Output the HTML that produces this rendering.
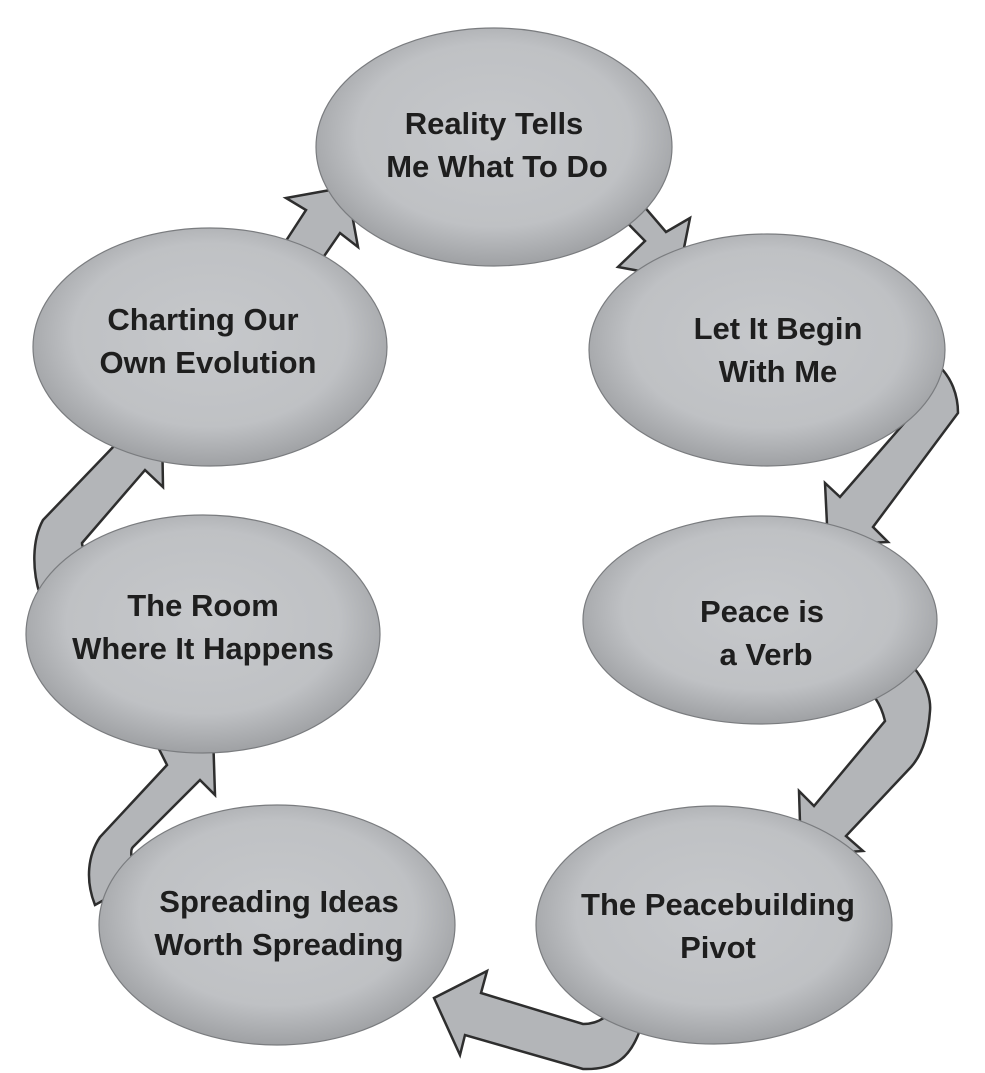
<!DOCTYPE html>
<html><head><meta charset="utf-8"><style>
html,body{margin:0;padding:0;background:#fff;}
svg{display:block;}
text{font-family:"Liberation Sans",Arial,sans-serif;font-weight:bold;font-size:31px;fill:#1e1e1e;text-anchor:middle;}
</style></head><body>
<svg width="985" height="1073" viewBox="0 0 985 1073" xmlns="http://www.w3.org/2000/svg">
<defs>
<radialGradient id="g" cx="50%" cy="45%" r="55%">
<stop offset="0" stop-color="#c6c8cb"/>
<stop offset="0.7" stop-color="#bfc1c4"/>
<stop offset="1" stop-color="#9fa1a4"/>
</radialGradient>
</defs>
<g fill="#b3b5b8" stroke="#2e2e2e" stroke-width="2.5" stroke-linejoin="miter">
<!-- 1->2 -->
<polygon points="605,200 645,241 618,267 678,278 690,218 666,232 630,190"/>
<!-- 2->3 -->
<path d="M900,350 C930,350 958,375 958,413 L873,527 L888,542 L828,545 L825,483 L840,497 L913,413 C915,395 905,380 890,375 Z"/>
<!-- 3->4 -->
<path d="M890,650 C915,660 932,690 930,711 C928,740 920,757 911,767 L846,836 L863,851 L801,855 L799,791 L814,806 L885,721 C880,700 870,690 860,685 Z"/>
<!-- 4->5 -->
<path d="M620,1000 C610,1015 600,1024 583,1024 L481,993 L487,971 L434,998 L460,1055 L465,1035 L583,1069 C615,1070 630,1058 640,1030 Z"/>
<!-- 5->6 -->
<path d="M140,880 C130,860 130,850 133,847 L200,780 L215,795 L213,733 L153,737 L167,765 L100,837 C88,855 85,880 95,905 Z"/>
<!-- 6->7 -->
<path d="M95,560 C85,550 82,548 82,543 L145,470 L163,487 L162,427 L100,430 L115,445 L43,520 C32,540 32,570 40,595 Z"/>
<!-- 7->1 -->
<polygon points="280,250 306,210 286,198 347,187 358,247 340,233 318,265"/>
</g>
<g fill="url(#g)" stroke="#7a7c7f" stroke-width="1.2">
<ellipse cx="494" cy="147" rx="178" ry="119"/>
<ellipse cx="767" cy="350" rx="178" ry="116"/>
<ellipse cx="760" cy="620" rx="177" ry="104"/>
<ellipse cx="714" cy="925" rx="178" ry="119"/>
<ellipse cx="277" cy="925" rx="178" ry="120"/>
<ellipse cx="203" cy="634" rx="177" ry="119"/>
<ellipse cx="210" cy="347" rx="177" ry="119"/>
</g>
<text x="494" y="134">Reality Tells</text>
<text x="497" y="177">Me What To Do</text>
<text x="778" y="339">Let It Begin</text>
<text x="778" y="382">With Me</text>
<text x="762" y="622">Peace is</text>
<text x="766" y="665">a Verb</text>
<text x="718" y="915">The Peacebuilding</text>
<text x="718" y="958">Pivot</text>
<text x="279" y="912">Spreading Ideas</text>
<text x="279" y="955">Worth Spreading</text>
<text x="203" y="616">The Room</text>
<text x="203" y="659">Where It Happens</text>
<text x="203" y="330">Charting Our</text>
<text x="208" y="373">Own Evolution</text>
</svg>
</body></html>
